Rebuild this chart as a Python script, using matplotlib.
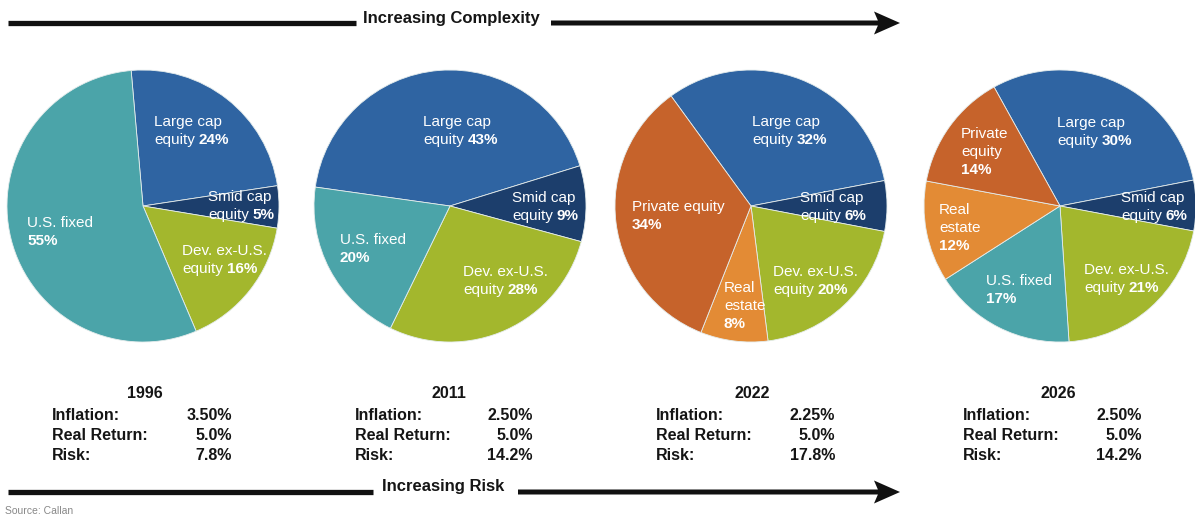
import matplotlib
matplotlib.use('Agg')
import matplotlib.pyplot as plt
from matplotlib.patches import FancyArrow
from matplotlib.transforms import offset_copy

W, H = 1195, 518

years = ['1996', '2011', '2022', '2026']

# slices listed clockwise from each pie's start angle
names_1996 = ['Large cap\nequity', 'Smid cap\nequity', 'Dev. ex-U.S.\nequity', 'U.S. fixed']
values_1996 = [24, 5, 16, 55]
names_2011 = ['Large cap\nequity', 'Smid cap\nequity', 'Dev. ex-U.S.\nequity', 'U.S. fixed']
values_2011 = [43, 9, 28, 20]
names_2022 = ['Large cap\nequity', 'Smid cap\nequity', 'Dev. ex-U.S.\nequity', 'Real\nestate',
              'Private equity']
values_2022 = [32, 6, 20, 8, 34]
names_2026 = ['Large cap\nequity', 'Smid cap\nequity', 'Dev. ex-U.S.\nequity', 'U.S. fixed',
              'Real\nestate', 'Private\nequity']
values_2026 = [30, 6, 21, 17, 12, 14]

inflation = ['3.50%', '2.50%', '2.25%', '2.50%']
real_return = ['5.0%', '5.0%', '5.0%', '5.0%']
risk = ['7.8%', '14.2%', '17.8%', '14.2%']

colors = {
    'Large cap equity': '#2f64a2',
    'Smid cap equity': '#1c3e6c',
    'Dev. ex-U.S. equity': '#a3b72d',
    'U.S. fixed': '#4ba4a9',
    'Private equity': '#c6632b',
    'Real estate': '#e38b35',
}
# these carry the percentage on the same line as "equity"
inline_pct = ['Large cap equity', 'Smid cap equity', 'Dev. ex-U.S. equity']

# layout (pixels from the top-left corner)
centers_x = [143, 450, 751, 1060]
center_y = 206
radius = 136
start_angles = [95, 172, 126, 119]
label_pos = [
    [(154, 122), (208, 197), (182, 251), (27, 223)],
    [(423, 122), (512, 198), (463, 272), (340, 240)],
    [(752, 122), (800, 198), (773, 272), (724, 288), (632, 207)],
    [(1057, 123), (1121, 198), (1084, 270), (986, 281), (939, 210), (961, 134)],
]
line_step = 18

FONT = ['Liberation Sans', 'DejaVu Sans']


def Y(y):
    return H - y


fig = plt.figure(figsize=(W / 100, H / 100), dpi=100)
ax = fig.add_axes([0, 0, 1, 1])
renderer = fig.canvas.get_renderer()

all_names = [names_1996, names_2011, names_2022, names_2026]
all_values = [values_1996, values_2011, values_2022, values_2026]

for i in range(4):
    names = all_names[i]
    values = all_values[i]
    keys = [n.replace('\n', ' ') for n in names]
    ax.pie(values, colors=[colors[k] for k in keys], startangle=start_angles[i],
           counterclock=False, center=(centers_x[i], Y(center_y)), radius=radius,
           frame=True, wedgeprops=dict(edgecolor='#e4ecec', linewidth=0.6))

    for name, key, v, (lx, ly) in zip(names, keys, values, label_pos[i]):
        lines = name.split('\n')
        pct = '%d%%' % v
        if key not in inline_pct:
            lines = lines + [None]
        for j, line in enumerate(lines):
            yy = Y(ly + j * line_step)
            if line is None:
                ax.text(lx, yy, pct, color='white', fontsize=11, family=FONT,
                        fontweight='bold', va='center', ha='left')
                continue
            t = ax.text(lx, yy, line, color='white', fontsize=11, family=FONT,
                        va='center', ha='left')
            if j == len(lines) - 1:
                w = t.get_window_extent(renderer=renderer).width + 4
                tr = offset_copy(ax.transData, fig=fig, x=w, y=0, units='dots')
                ax.text(lx, yy, pct, color='white', fontsize=11, family=FONT,
                        fontweight='bold', va='center', ha='left', transform=tr)

# summary statistics under each pie
stat_left = [52, 355, 656, 963]
stat_right = [232, 533, 835, 1142]
year_x = [145, 449, 752, 1058]
for i in range(4):
    ax.text(year_x[i], Y(393), years[i], fontsize=11.5, family=FONT,
            fontweight='bold', ha='center', va='center', color='#151515')
    rows = [('Inflation:', inflation[i]), ('Real Return:', real_return[i]),
            ('Risk:', risk[i])]
    for j, (lab, val) in enumerate(rows):
        yy = Y(416 + j * 20)
        ax.text(stat_left[i], yy, lab, fontsize=11.5, family=FONT,
                fontweight='bold', ha='left', va='center', color='#151515')
        ax.text(stat_right[i], yy, val, fontsize=11.5, family=FONT,
                fontweight='bold', ha='right', va='center', color='#151515')


# "increasing" arrows across the top and the bottom
def arrow_row(y, text, text_x, left_end, right_start):
    ax.plot([8, left_end], [Y(y), Y(y)], color='#111111', lw=3.8,
            solid_capstyle='butt')
    ax.add_patch(FancyArrow(right_start, Y(y), 900 - right_start, 0, width=5,
                            head_width=23, head_length=26, length_includes_head=True,
                            overhang=0.15, color='#111111', lw=0))
    ax.text(text_x, Y(y - 5), text, fontsize=12, family=FONT,
            fontweight='bold', ha='center', va='center', color='#151515')


arrow_row(23, 'Increasing Complexity', 451, 356, 551)
arrow_row(492, 'Increasing Risk', 443, 373, 518)

ax.text(5, Y(511), 'Source: Callan', fontsize=7.5, family=FONT,
        color='#888888', ha='left', va='center')

ax.set_xlim(0, W)
ax.set_ylim(0, H)
ax.set_aspect('equal')
ax.axis('off')

fig.savefig('out.png', dpi=100, facecolor='white')
